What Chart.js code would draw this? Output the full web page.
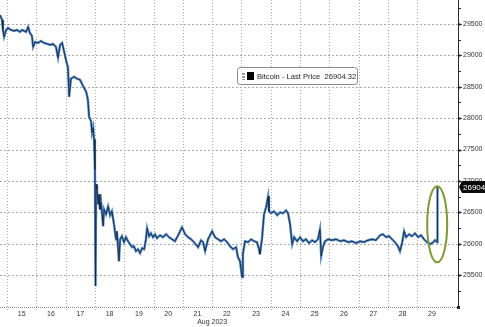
<!DOCTYPE html>
<html>
<head>
<meta charset="utf-8">
<script src="https://cdn.jsdelivr.net/npm/chart.js@4/dist/chart.umd.min.js"></script>
<style>
  html, body { margin: 0; padding: 0; background: #fff; }
  #chart-btc { display: block; }
</style>
</head>
<body>
<canvas id="chart-btc" width="485" height="327"></canvas>
<script>
// ========== Data (day of Aug 2023, BTC price) ==========
const times = [
  14.76, 14.83, 14.86, 14.90, 14.97, 15.03, 15.14, 15.24, 15.34, 15.44, 15.51, 15.58, 15.65, 15.72, 15.78,
  15.85, 15.89, 15.96, 16.06, 16.16, 16.26, 16.37, 16.47, 16.57, 16.67, 16.74, 16.81, 16.88, 16.95, 17.01,
  17.08, 17.12, 17.18, 17.29, 17.39, 17.49, 17.59, 17.70, 17.76, 17.80, 17.87, 17.90, 17.94, 17.97, 18.00,
  18.02, 18.04, 18.07, 18.11, 18.14, 18.17, 18.21, 18.28, 18.31, 18.38, 18.45, 18.52, 18.58, 18.65, 18.72,
  18.75, 18.82, 18.86, 18.92, 18.99, 19.06, 19.13, 19.20, 19.27, 19.33, 19.40, 19.47, 19.54, 19.61, 19.68,
  19.74, 19.78, 19.85, 19.91, 19.98, 20.05, 20.12, 20.22, 20.32, 20.43, 20.53, 20.63, 20.73, 20.84, 20.97,
  21.08, 21.18, 21.28, 21.38, 21.52, 21.62, 21.69, 21.76, 21.86, 22.00, 22.10, 22.20, 22.30, 22.41, 22.51,
  22.61, 22.71, 22.82, 22.88, 22.95, 23.02, 23.05, 23.12, 23.23, 23.33, 23.43, 23.53, 23.60, 23.63, 23.70,
  23.77, 23.84, 23.91, 23.94, 24.01, 24.11, 24.22, 24.32, 24.42, 24.52, 24.59, 24.66, 24.73, 24.80, 24.90,
  25.00, 25.10, 25.20, 25.31, 25.41, 25.51, 25.61, 25.68, 25.72, 25.78, 25.85, 25.96, 26.09, 26.23, 26.37,
  26.50, 26.64, 26.77, 26.91, 27.05, 27.18, 27.32, 27.46, 27.59, 27.73, 27.83, 27.94, 28.04, 28.14, 28.24,
  28.34, 28.41, 28.48, 28.55, 28.62, 28.72, 28.82, 28.92, 29.03, 29.13, 29.23, 29.33, 29.44, 29.54, 29.61,
  29.68, 29.69
];
const prices = [
  29643, 29564, 29405, 29294, 29405, 29437, 29405, 29389, 29405, 29373, 29405, 29389, 29373, 29453, 29357,
  29310, 29135, 29214, 29198, 29230, 29198, 29183, 29167, 29183, 29135, 28961, 29167, 29198, 29056, 28929,
  28802, 28342, 28627, 28659, 28627, 28611, 28516, 28421, 28294, 28024, 27945, 27770, 27850, 27659, 27183,
  25326, 26945, 26865, 26628, 26786, 26548, 26659, 26279, 26548, 26469, 26596, 26453, 26517, 26310, 26072,
  26199, 25723, 26072, 26120, 26025, 26104, 26040, 25993, 25945, 25961, 25882, 25913, 25850, 25929, 25913,
  26072, 26247, 26120, 26167, 26104, 26151, 26088, 26136, 26104, 26151, 26104, 26072, 26040, 26136, 26263,
  26151, 26104, 26072, 26025, 25945, 26056, 26025, 25882, 26072, 26199, 26104, 26072, 26040, 26072, 26025,
  25961, 25913, 25945, 25787, 25723, 25469, 25834, 26040, 26025, 26072, 26040, 26025, 25913, 25834, 26072,
  26469, 26580, 26755, 26517, 26485, 26517, 26453, 26501, 26485, 26532, 26485, 26310, 25993, 26104, 26040,
  26104, 26040, 26072, 26009, 26056, 26025, 26072, 26231, 25803, 25945, 26040, 26072, 26056, 26072, 26040,
  26056, 26025, 26040, 26009, 26040, 26025, 26056, 26072, 26056, 26136, 26151, 26104, 26120, 26072, 26025,
  25961, 25882, 26009, 26199, 26104, 26151, 26120, 26167, 26104, 26136, 26072, 26025, 25993, 26025, 26056,
  26025, 26904
];
const lastPrice = 26904.32;
const dayTicks = [15, 16, 17, 18, 19, 20, 21, 22, 23, 24, 25, 26, 27, 28, 29];
const priceTicks = [25500, 26000, 26500, 27000, 27500, 28000, 28500, 29000, 29500];

// ========== Grid + axes plugin (drawn from the scales) ==========
const bbgGrid = {
  id: "bbgGrid",
  beforeDatasetsDraw: (chart) => {
    const { ctx, scales } = chart;
    const xs = scales.x;
    const ys = scales.y;
    const left = xs.left;
    const right = xs.right;
    const top = ys.top;
    const bottom = ys.bottom;
    ctx.save();
    ctx.lineWidth = 1;

    // vertical day lines
    ctx.strokeStyle = "#a9a9a9";
    ctx.setLineDash([1, 2]);
    dayTicks.forEach((d) => {
      const x = Math.round(xs.getPixelForValue(d)) + 0.5;
      ctx.beginPath();
      ctx.moveTo(x, top);
      ctx.lineTo(x, bottom + 3);
      ctx.stroke();
    });

    // horizontal price lines
    ctx.setLineDash([2, 2]);
    priceTicks.forEach((p) => {
      const y = Math.round(ys.getPixelForValue(p)) + 0.5;
      ctx.beginPath();
      ctx.moveTo(left, y);
      ctx.lineTo(right, y);
      ctx.stroke();
    });

    // bottom axis, dotted
    ctx.strokeStyle = "#8f8f8f";
    ctx.setLineDash([1, 1]);
    ctx.beginPath();
    ctx.moveTo(left, Math.round(bottom) + 0.5);
    ctx.lineTo(right, Math.round(bottom) + 0.5);
    ctx.stroke();

    // right axis, solid, with ticks every 250
    ctx.setLineDash([]);
    ctx.strokeStyle = "#2a2a2a";
    ctx.fillStyle = "#2a2a2a";
    const xr = Math.round(right) + 0.5;
    ctx.beginPath();
    ctx.moveTo(xr, top);
    ctx.lineTo(xr, bottom);
    ctx.stroke();
    priceTicks.forEach((p, i) => {
      const y = Math.round(ys.getPixelForValue(p)) + 0.5;
      ctx.beginPath();
      ctx.moveTo(xr, y - 1.5);
      ctx.lineTo(xr + 4, y);
      ctx.lineTo(xr, y + 1.5);
      ctx.closePath();
      ctx.fill();
      const minors = i === priceTicks.length - 1 ? [p - 250, p + 250] : [p - 250];
      minors.forEach((m) => {
        const ym = Math.round(ys.getPixelForValue(m)) + 0.5;
        ctx.beginPath();
        ctx.moveTo(xr, ym);
        ctx.lineTo(xr + 2.5, ym);
        ctx.stroke();
      });
    });
    ctx.fillRect(xr - 1.5, Math.round(bottom) - 1, 3, 3);
    ctx.restore();
  },
};

// ========== Overlay plugin ==========
const bbgOverlay = {
  id: "bbgOverlay",
  afterDraw: (chart) => {
    const { ctx, scales } = chart;
    const xs = scales.x;
    const ys = scales.y;
    ctx.save();

    // legend box
    ctx.fillStyle = "#ffffff";
    ctx.strokeStyle = "#8a8a8a";
    ctx.lineWidth = 1;
    ctx.beginPath();
    ctx.roundRect(237.5, 67.5, 120, 17, 3);
    ctx.fill();
    ctx.stroke();
    ctx.fillStyle = "#9a9a9a";
    ctx.fillRect(242, 73, 3, 2);
    ctx.fillRect(242, 76, 3, 2);
    ctx.fillRect(242, 79, 3, 1);
    ctx.fillStyle = "#000000";
    ctx.fillRect(247, 72, 7, 8);
    ctx.fillStyle = "#222222";
    ctx.font = "7.6px 'Liberation Sans', Arial, sans-serif";
    ctx.textBaseline = "middle";
    ctx.textAlign = "left";
    ctx.fillText("Bitcoin - Last Price  " + lastPrice.toFixed(2), 257, 76.5);

    // last price tag
    const yp = ys.getPixelForValue(lastPrice);
    const xt = xs.right + 1;
    ctx.fillStyle = "#0a0a0a";
    ctx.beginPath();
    ctx.moveTo(xt, yp);
    ctx.lineTo(xt + 3, yp - 6);
    ctx.lineTo(xt + 32, yp - 6);
    ctx.lineTo(xt + 32, yp + 6);
    ctx.lineTo(xt + 3, yp + 6);
    ctx.closePath();
    ctx.fill();
    ctx.fillStyle = "#ffffff";
    ctx.font = "8px 'Liberation Sans', Arial, sans-serif";
    ctx.fillText(lastPrice.toFixed(2), xt + 4, yp + 0.5);

    // green ellipse round the last move
    ctx.strokeStyle = "#7d9b2e";
    ctx.lineWidth = 2;
    ctx.beginPath();
    ctx.ellipse(xs.getPixelForValue(29.68), ys.getPixelForValue(26310), 10, 38, 0, 0, Math.PI * 2);
    ctx.stroke();

    // month label
    ctx.fillStyle = "#333333";
    ctx.font = "7px 'Liberation Sans', Arial, sans-serif";
    ctx.textAlign = "center";
    ctx.fillText("Aug 2023", xs.getPixelForValue(22), 322);
    ctx.restore();
  },
};

// ========== Chart ==========
const chartBtcId = document.getElementById("chart-btc");
const points = times.map((t, i) => ({ x: t, y: prices[i] }));
const ctxBtc = chartBtcId.getContext("2d");
const chartBtc = new Chart(ctxBtc, {
  type: "line",
  data: {
    datasets: [
      {
        label: "Bitcoin - Last Price",
        data: points,
        borderColor: "#17283d",
        borderWidth: 0.9,
      },
      {
        label: "Bitcoin halo",
        data: points,
        borderColor: "#4f87cc",
        borderWidth: 2.4,
      },
    ],
  },
  options: {
    responsive: false,
    animation: false,
    devicePixelRatio: 1,
    layout: { padding: { left: 0, top: 0, right: 2.54, bottom: 7.6 } },
    elements: {
      point: { radius: 0 },
      line: { tension: 0 },
    },
    plugins: {
      legend: { display: false },
      tooltip: { enabled: false },
    },
    scales: {
      x: {
        type: "linear",
        position: "bottom",
        min: 14.76,
        max: 30.39,
        afterBuildTicks: (scale) => {
          scale.ticks = dayTicks.map((d) => ({ value: d + 0.5 }));
        },
        ticks: {
          autoSkip: false,
          maxRotation: 0,
          padding: 1,
          color: "#333333",
          font: { family: "'Liberation Sans', Arial, sans-serif", size: 7 },
          callback: (value) => String(Math.floor(value)),
        },
        grid: { display: false, drawTicks: true, tickLength: 2 },
        border: { display: false },
      },
      y: {
        type: "linear",
        position: "right",
        min: 24993,
        max: 29881,
        afterBuildTicks: (scale) => {
          scale.ticks = priceTicks.map((p) => ({ value: p }));
        },
        ticks: {
          autoSkip: false,
          padding: 0,
          color: "#333333",
          font: { family: "'Liberation Sans', Arial, sans-serif", size: 7, lineHeight: 0.01 },
          callback: (value) => String(value),
        },
        grid: { display: false, drawTicks: true, tickLength: 5 },
        border: { display: false },
      },
    },
  },
  plugins: [bbgGrid, bbgOverlay],
});
</script>
</body>
</html>
